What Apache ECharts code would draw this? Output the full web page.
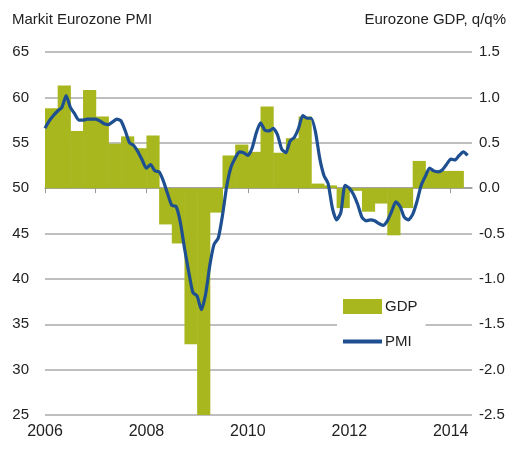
<!DOCTYPE html>
<html>
<head>
<meta charset="utf-8">
<script src="https://cdn.jsdelivr.net/npm/echarts@6/dist/echarts.min.js"></script>
<style>
  html, body { margin: 0; padding: 0; background: #fff; }
  #chart { width: 518px; height: 452px; }
</style>
</head>
<body>
<div id="chart"></div>
<script>
// monthly Markit Eurozone PMI, Jan 2006 .. May 2014
var pmiStart = 2006
var pmi = [
  56.6, 57.4, 58.0, 58.5, 58.9, 60.2, 58.9, 58.2, 57.5, 57.5, 57.6, 57.6,
  57.6, 57.4, 57.1, 57.0, 57.3, 57.6, 57.4, 56.3, 55.0, 54.7, 54.0, 53.1,
  52.2, 52.6, 51.9, 51.8, 50.8, 49.4, 48.1, 48.0, 46.3, 43.4, 40.8, 38.5,
  38.1, 36.6, 38.3, 41.5, 43.8, 44.5, 47.0, 50.2, 52.3, 53.3, 54.0, 53.9,
  53.6, 54.4, 56.1, 57.2, 56.4, 56.3, 56.6, 55.9, 54.3, 53.9, 55.2, 55.6,
  56.6, 58.0, 57.7, 57.7, 56.2, 53.3, 51.4, 50.5, 47.8, 46.5, 47.3, 50.3,
  50.0, 49.3, 48.2, 46.8, 46.4, 46.5, 46.4, 46.1, 45.9, 46.4, 47.4, 48.5,
  48.0, 46.8, 46.5, 47.1, 48.5, 50.3, 51.3, 52.2, 51.9, 51.8, 52.0, 52.6,
  53.2, 53.1, 53.6, 54.0, 53.6
]

// quarterly Eurozone GDP q/q %, 2006 Q1 .. 2014 Q1
var gdp = [
  0.88, 1.13, 0.63, 1.08,
  0.79, 0.49, 0.57, 0.44,
  0.58, -0.40, -0.61, -1.72,
  -2.5, -0.27, 0.36, 0.48,
  0.40, 0.90, 0.39, 0.55,
  0.79, 0.05, 0.03, -0.22,
  -0.03, -0.26, -0.17, -0.52,
  -0.22, 0.30, 0.19, 0.19,
  0.19
]

var pmiTicks = [25, 65, 5]
var gdpTicks = [-2.5, 1.5, 0.5]
var yearRange = [2006, 2014.42]

var font = '"Liberation Sans Narrow", "Arial Narrow", "Liberation Sans", sans-serif'
var green = '#a9b71f'
var blue = '#1d4f91'

var pmiData = pmi.map(function (v, i) { return [pmiStart + i / 12, v] })
var gdpData = gdp.map(function (v, i) { return [pmiStart + i / 4, pmiStart + (i + 1) / 4, v] })

var chart = echarts.init(document.getElementById('chart'))
var option = {
  animation: false,
  textStyle: { fontFamily: font },
  grid: { left: 45, right: 46, top: 52, bottom: 37 },
  graphic: [
    { type: 'text', left: 12, top: 12, style: { text: 'Markit Eurozone PMI', font: '15px ' + font, fill: '#222' } },
    { type: 'text', right: 12, top: 12, style: { text: 'Eurozone GDP, q/q%', font: '15px ' + font, fill: '#222' } }
  ],
  legend: [
    {
      data: [{ name: 'GDP', icon: 'rect' }],
      left: 337, top: 293,
      itemWidth: 39, itemHeight: 15, itemGap: 0,
      padding: [6, 8, 14, 6],
      backgroundColor: '#fff',
      textStyle: { fontFamily: font, fontSize: 15, color: '#222', padding: [0, 0, 0, -2] }
    },
    {
      data: [{ name: 'PMI', icon: 'rect' }],
      left: 337, top: 328,
      itemWidth: 39, itemHeight: 4, itemGap: 0,
      padding: [6, 8, 6, 6],
      backgroundColor: '#fff',
      textStyle: { fontFamily: font, fontSize: 15, color: '#222', padding: [0, 0, 0, -2] }
    }
  ],
  xAxis: {
    type: 'value',
    min: yearRange[0],
    max: yearRange[1],
    interval: 1,
    splitLine: { show: false },
    axisLine: { lineStyle: { color: '#999', width: 1.5 } },
    axisTick: { show: true, length: 5, lineStyle: { color: '#999' } },
    axisLabel: {
      fontSize: 16, color: '#222', margin: 9, showMaxLabel: false,
      formatter: function (v) { return (Math.abs(v - Math.round(v)) < 1e-6 && Math.round(v) % 2 === 0) ? String(Math.round(v)) : '' }
    }
  },
  yAxis: [
    {
      type: 'value',
      min: pmiTicks[0], max: pmiTicks[1], interval: pmiTicks[2],
      axisLine: { show: false },
      axisTick: { show: false },
      axisLabel: { fontSize: 15, color: '#222', margin: 16 },
      splitLine: { lineStyle: { color: '#aaa', width: 1.5 } }
    },
    {
      type: 'value',
      min: gdpTicks[0], max: gdpTicks[1], interval: gdpTicks[2],
      axisLine: { show: false },
      axisTick: { show: false },
      axisLabel: { fontSize: 15, color: '#222', margin: 7, formatter: function (v) { return v.toFixed(1) } },
      splitLine: { show: false }
    }
  ],
  series: [
    {
      name: 'GDP',
      type: 'custom',
      yAxisIndex: 1,
      data: gdpData,
      itemStyle: { color: green },
      encode: { x: [0, 1], y: 2 },
      renderItem: function (params, api) {
        var a = api.coord([api.value(0), api.value(2)])
        var b = api.coord([api.value(1), 0])
        var x = Math.min(a[0], b[0]), y = Math.min(a[1], b[1])
        return {
          type: 'rect',
          shape: { x: x, y: y, width: Math.abs(b[0] - a[0]) + 0.5, height: Math.abs(b[1] - a[1]) },
          style: { fill: green }
        }
      },
      z: 1
    },
    {
      name: 'PMI',
      type: 'line',
      yAxisIndex: 0,
      data: pmiData,
      showSymbol: false,
      smooth: 0.2,
      itemStyle: { color: blue },
      lineStyle: { color: blue, width: 3.2 },
      z: 3
    }
  ]
}
chart.setOption(option)
</script>
</body>
</html>
